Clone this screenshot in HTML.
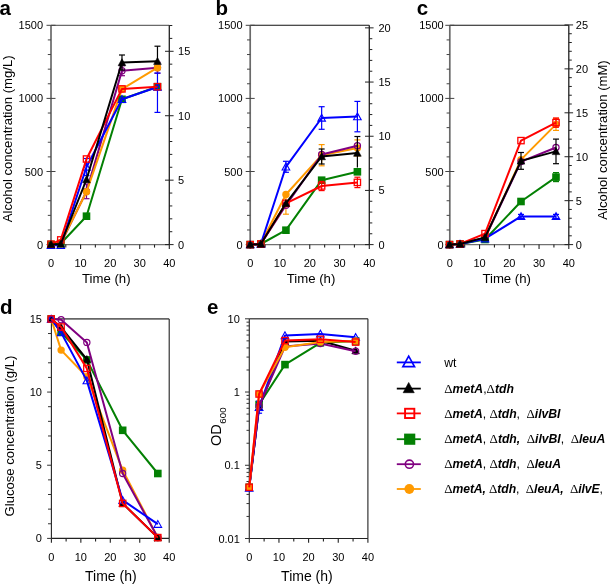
<!DOCTYPE html>
<html><head><meta charset="utf-8"><style>
html,body{margin:0;padding:0;background:#fff;}
body{width:610px;height:584px;overflow:hidden;font-family:"Liberation Sans", sans-serif;}
svg{display:block;will-change:transform;}
</style></head><body>
<svg width="610" height="584" viewBox="0 0 610 584" font-family='"Liberation Sans", sans-serif'>
<rect width="610" height="584" fill="#fff"/>
<text x="-0.6" y="15.2" font-size="20.5" text-anchor="start" font-weight="bold" font-style="normal">a</text>
<text x="215.5" y="15.2" font-size="20.5" text-anchor="start" font-weight="bold" font-style="normal">b</text>
<text x="416.8" y="15.2" font-size="20.5" text-anchor="start" font-weight="bold" font-style="normal">c</text>
<text x="0" y="314.2" font-size="20.5" text-anchor="start" font-weight="bold" font-style="normal">d</text>
<text x="207" y="314.2" font-size="20.5" text-anchor="start" font-weight="bold" font-style="normal">e</text>
<line x1="51" y1="25.3" x2="169.3" y2="25.3" stroke="#6a6a6a" stroke-width="1.3"/>
<line x1="51" y1="25.3" x2="51" y2="244.6" stroke="#6a6a6a" stroke-width="1.7"/>
<line x1="51" y1="244.6" x2="169.3" y2="244.6" stroke="#707070" stroke-width="1.3"/>
<line x1="169.3" y1="25.3" x2="169.3" y2="244.6" stroke="#222" stroke-width="1.3"/>
<line x1="46.5" y1="244.6" x2="55.5" y2="244.6" stroke="#444" stroke-width="1.0"/>
<text x="43.1" y="248.6" font-size="11" text-anchor="end" font-weight="normal" font-style="normal">0</text>
<line x1="47.8" y1="229.98" x2="51" y2="229.98" stroke="#444" stroke-width="1.0"/>
<line x1="47.8" y1="215.36" x2="51" y2="215.36" stroke="#444" stroke-width="1.0"/>
<line x1="47.8" y1="200.74" x2="51" y2="200.74" stroke="#444" stroke-width="1.0"/>
<line x1="47.8" y1="186.12" x2="51" y2="186.12" stroke="#444" stroke-width="1.0"/>
<line x1="46.5" y1="171.5" x2="55.5" y2="171.5" stroke="#444" stroke-width="1.0"/>
<text x="43.1" y="175.5" font-size="11" text-anchor="end" font-weight="normal" font-style="normal">500</text>
<line x1="47.8" y1="156.88" x2="51" y2="156.88" stroke="#444" stroke-width="1.0"/>
<line x1="47.8" y1="142.26" x2="51" y2="142.26" stroke="#444" stroke-width="1.0"/>
<line x1="47.8" y1="127.64" x2="51" y2="127.64" stroke="#444" stroke-width="1.0"/>
<line x1="47.8" y1="113.02" x2="51" y2="113.02" stroke="#444" stroke-width="1.0"/>
<line x1="46.5" y1="98.4" x2="55.5" y2="98.4" stroke="#444" stroke-width="1.0"/>
<text x="43.1" y="102.4" font-size="11" text-anchor="end" font-weight="normal" font-style="normal">1000</text>
<line x1="47.8" y1="83.78" x2="51" y2="83.78" stroke="#444" stroke-width="1.0"/>
<line x1="47.8" y1="69.16" x2="51" y2="69.16" stroke="#444" stroke-width="1.0"/>
<line x1="47.8" y1="54.54" x2="51" y2="54.54" stroke="#444" stroke-width="1.0"/>
<line x1="47.8" y1="39.92" x2="51" y2="39.92" stroke="#444" stroke-width="1.0"/>
<line x1="46.5" y1="25.3" x2="55.5" y2="25.3" stroke="#444" stroke-width="1.0"/>
<text x="43.1" y="29.3" font-size="11" text-anchor="end" font-weight="normal" font-style="normal">1500</text>
<line x1="165" y1="244.6" x2="173.6" y2="244.6" stroke="#222" stroke-width="1.0"/>
<text x="178.1" y="248.6" font-size="11" text-anchor="start" font-weight="normal" font-style="normal">0</text>
<line x1="169.3" y1="231.71" x2="172.3" y2="231.71" stroke="#222" stroke-width="1.0"/>
<line x1="169.3" y1="218.82" x2="172.3" y2="218.82" stroke="#222" stroke-width="1.0"/>
<line x1="169.3" y1="205.94" x2="172.3" y2="205.94" stroke="#222" stroke-width="1.0"/>
<line x1="169.3" y1="193.05" x2="172.3" y2="193.05" stroke="#222" stroke-width="1.0"/>
<line x1="165" y1="180.16" x2="173.6" y2="180.16" stroke="#222" stroke-width="1.0"/>
<text x="178.1" y="184.16" font-size="11" text-anchor="start" font-weight="normal" font-style="normal">5</text>
<line x1="169.3" y1="167.27" x2="172.3" y2="167.27" stroke="#222" stroke-width="1.0"/>
<line x1="169.3" y1="154.39" x2="172.3" y2="154.39" stroke="#222" stroke-width="1.0"/>
<line x1="169.3" y1="141.5" x2="172.3" y2="141.5" stroke="#222" stroke-width="1.0"/>
<line x1="169.3" y1="128.61" x2="172.3" y2="128.61" stroke="#222" stroke-width="1.0"/>
<line x1="165" y1="115.72" x2="173.6" y2="115.72" stroke="#222" stroke-width="1.0"/>
<text x="178.1" y="119.72" font-size="11" text-anchor="start" font-weight="normal" font-style="normal">10</text>
<line x1="169.3" y1="102.84" x2="172.3" y2="102.84" stroke="#222" stroke-width="1.0"/>
<line x1="169.3" y1="89.95" x2="172.3" y2="89.95" stroke="#222" stroke-width="1.0"/>
<line x1="169.3" y1="77.06" x2="172.3" y2="77.06" stroke="#222" stroke-width="1.0"/>
<line x1="169.3" y1="64.17" x2="172.3" y2="64.17" stroke="#222" stroke-width="1.0"/>
<line x1="165" y1="51.29" x2="173.6" y2="51.29" stroke="#222" stroke-width="1.0"/>
<text x="178.1" y="55.29" font-size="11" text-anchor="start" font-weight="normal" font-style="normal">15</text>
<line x1="169.3" y1="38.4" x2="172.3" y2="38.4" stroke="#222" stroke-width="1.0"/>
<line x1="169.3" y1="25.51" x2="172.3" y2="25.51" stroke="#222" stroke-width="1.0"/>
<line x1="51" y1="244.6" x2="51" y2="248.9" stroke="#222" stroke-width="1.1"/>
<line x1="65.79" y1="244.6" x2="65.79" y2="247.6" stroke="#222" stroke-width="1.1"/>
<line x1="80.58" y1="244.6" x2="80.58" y2="248.9" stroke="#222" stroke-width="1.1"/>
<line x1="95.36" y1="244.6" x2="95.36" y2="247.6" stroke="#222" stroke-width="1.1"/>
<line x1="110.15" y1="244.6" x2="110.15" y2="248.9" stroke="#222" stroke-width="1.1"/>
<line x1="124.94" y1="244.6" x2="124.94" y2="247.6" stroke="#222" stroke-width="1.1"/>
<line x1="139.73" y1="244.6" x2="139.73" y2="248.9" stroke="#222" stroke-width="1.1"/>
<line x1="154.51" y1="244.6" x2="154.51" y2="247.6" stroke="#222" stroke-width="1.1"/>
<line x1="169.3" y1="244.6" x2="169.3" y2="248.9" stroke="#222" stroke-width="1.1"/>
<text x="51" y="267" font-size="11" text-anchor="middle" font-weight="normal" font-style="normal">0</text>
<text x="80.58" y="267" font-size="11" text-anchor="middle" font-weight="normal" font-style="normal">10</text>
<text x="110.15" y="267" font-size="11" text-anchor="middle" font-weight="normal" font-style="normal">20</text>
<text x="139.73" y="267" font-size="11" text-anchor="middle" font-weight="normal" font-style="normal">30</text>
<text x="169.3" y="267" font-size="11" text-anchor="middle" font-weight="normal" font-style="normal">40</text>
<text x="106.3" y="282.9" font-size="13.2" text-anchor="middle" font-weight="normal" font-style="normal">Time (h)</text>
<polyline points="51,244.4 60.76,243.5 86.49,191.4 121.98,70.7 157.47,67.8" fill="none" stroke="#800080" stroke-width="2.0" stroke-linejoin="round"/>
<line x1="86.49" y1="184.1" x2="86.49" y2="198.7" stroke="#800080" stroke-width="1.2"/>
<line x1="83.49" y1="184.1" x2="89.49" y2="184.1" stroke="#800080" stroke-width="1.2"/>
<line x1="83.49" y1="198.7" x2="89.49" y2="198.7" stroke="#800080" stroke-width="1.2"/>
<line x1="121.98" y1="65.7" x2="121.98" y2="75.7" stroke="#800080" stroke-width="1.2"/>
<line x1="118.98" y1="65.7" x2="124.98" y2="65.7" stroke="#800080" stroke-width="1.2"/>
<line x1="118.98" y1="75.7" x2="124.98" y2="75.7" stroke="#800080" stroke-width="1.2"/>
<line x1="157.47" y1="62.3" x2="157.47" y2="73.3" stroke="#800080" stroke-width="1.2"/>
<line x1="154.47" y1="62.3" x2="160.47" y2="62.3" stroke="#800080" stroke-width="1.2"/>
<line x1="154.47" y1="73.3" x2="160.47" y2="73.3" stroke="#800080" stroke-width="1.2"/>
<circle cx="51" cy="244.4" r="3.1" fill="none" stroke="#800080" stroke-width="1.2"/>
<circle cx="60.76" cy="243.5" r="3.1" fill="none" stroke="#800080" stroke-width="1.2"/>
<circle cx="86.49" cy="191.4" r="3.1" fill="none" stroke="#800080" stroke-width="1.2"/>
<circle cx="121.98" cy="70.7" r="3.1" fill="none" stroke="#800080" stroke-width="1.2"/>
<circle cx="157.47" cy="67.8" r="3.1" fill="none" stroke="#800080" stroke-width="1.2"/>
<polyline points="51,244.4 60.76,243 86.49,191.8 121.98,89.1 157.47,67.7" fill="none" stroke="#ff9a00" stroke-width="2.0" stroke-linejoin="round"/>
<circle cx="51" cy="244.4" r="3.7" fill="#ff9a00"/>
<circle cx="60.76" cy="243" r="3.7" fill="#ff9a00"/>
<circle cx="86.49" cy="191.8" r="3.7" fill="#ff9a00"/>
<circle cx="121.98" cy="89.1" r="3.7" fill="#ff9a00"/>
<circle cx="157.47" cy="67.7" r="3.7" fill="#ff9a00"/>
<polyline points="51,244.4 60.76,243.5 86.49,216.2 121.98,99.3 157.47,86.7" fill="none" stroke="#038003" stroke-width="2.0" stroke-linejoin="round"/>
<rect x="47.2" y="240.6" width="7.6" height="7.6" fill="#038003"/>
<rect x="56.96" y="239.7" width="7.6" height="7.6" fill="#038003"/>
<rect x="82.69" y="212.4" width="7.6" height="7.6" fill="#038003"/>
<rect x="118.18" y="95.5" width="7.6" height="7.6" fill="#038003"/>
<rect x="153.67" y="82.9" width="7.6" height="7.6" fill="#038003"/>
<polyline points="51,245.3 60.76,245.3 86.49,167 121.98,99.3 157.47,87" fill="none" stroke="#0000ff" stroke-width="2.0" stroke-linejoin="round"/>
<line x1="86.49" y1="158.5" x2="86.49" y2="175.5" stroke="#0000ff" stroke-width="1.2"/>
<line x1="83.49" y1="158.5" x2="89.49" y2="158.5" stroke="#0000ff" stroke-width="1.2"/>
<line x1="83.49" y1="175.5" x2="89.49" y2="175.5" stroke="#0000ff" stroke-width="1.2"/>
<line x1="157.47" y1="73" x2="157.47" y2="112.4" stroke="#0000ff" stroke-width="1.2"/>
<line x1="154.47" y1="73" x2="160.47" y2="73" stroke="#0000ff" stroke-width="1.2"/>
<line x1="154.47" y1="112.4" x2="160.47" y2="112.4" stroke="#0000ff" stroke-width="1.2"/>
<polygon points="51,241.63 47.2,248.43 54.8,248.43" fill="none" stroke="#0000ff" stroke-width="1.1"/>
<polygon points="60.76,241.63 56.96,248.43 64.56,248.43" fill="none" stroke="#0000ff" stroke-width="1.1"/>
<polygon points="86.49,163.33 82.69,170.13 90.29,170.13" fill="none" stroke="#0000ff" stroke-width="1.1"/>
<polygon points="121.98,95.63 118.18,102.43 125.78,102.43" fill="none" stroke="#0000ff" stroke-width="1.1"/>
<polygon points="157.47,83.33 153.67,90.13 161.27,90.13" fill="none" stroke="#0000ff" stroke-width="1.1"/>
<polyline points="51,244.2 60.76,239.9 86.49,159 121.98,88.9 157.47,86.7" fill="none" stroke="#ff0000" stroke-width="2.0" stroke-linejoin="round"/>
<rect x="47.85" y="241.05" width="6.3" height="6.3" fill="none" stroke="#ff0000" stroke-width="1.3"/>
<rect x="57.61" y="236.75" width="6.3" height="6.3" fill="none" stroke="#ff0000" stroke-width="1.3"/>
<rect x="83.34" y="155.85" width="6.3" height="6.3" fill="none" stroke="#ff0000" stroke-width="1.3"/>
<rect x="118.83" y="85.75" width="6.3" height="6.3" fill="none" stroke="#ff0000" stroke-width="1.3"/>
<rect x="154.32" y="83.55" width="6.3" height="6.3" fill="none" stroke="#ff0000" stroke-width="1.3"/>
<polyline points="51,244.4 60.76,244 86.49,179.5 121.98,62.5 157.47,61.2" fill="none" stroke="#000000" stroke-width="2.0" stroke-linejoin="round"/>
<line x1="121.98" y1="55" x2="121.98" y2="70" stroke="#000000" stroke-width="1.2"/>
<line x1="118.98" y1="55" x2="124.98" y2="55" stroke="#000000" stroke-width="1.2"/>
<line x1="118.98" y1="70" x2="124.98" y2="70" stroke="#000000" stroke-width="1.2"/>
<line x1="157.47" y1="46.2" x2="157.47" y2="61.2" stroke="#000000" stroke-width="1.2"/>
<line x1="154.47" y1="46.2" x2="160.47" y2="46.2" stroke="#000000" stroke-width="1.2"/>
<polygon points="51,240.62 47.2,247.62 54.8,247.62" fill="#000000" stroke="#000000" stroke-width="0.6"/>
<polygon points="60.76,240.22 56.96,247.22 64.56,247.22" fill="#000000" stroke="#000000" stroke-width="0.6"/>
<polygon points="86.49,175.72 82.69,182.72 90.29,182.72" fill="#000000" stroke="#000000" stroke-width="0.6"/>
<polygon points="121.98,58.72 118.18,65.72 125.78,65.72" fill="#000000" stroke="#000000" stroke-width="0.6"/>
<polygon points="157.47,57.42 153.67,64.42 161.27,64.42" fill="#000000" stroke="#000000" stroke-width="0.6"/>
<line x1="250.2" y1="25.3" x2="369.3" y2="25.3" stroke="#111" stroke-width="1.1"/>
<line x1="250.2" y1="25.3" x2="250.2" y2="244.6" stroke="#6a6a6a" stroke-width="1.7"/>
<line x1="250.2" y1="244.6" x2="369.3" y2="244.6" stroke="#707070" stroke-width="1.3"/>
<line x1="369.3" y1="25.3" x2="369.3" y2="244.6" stroke="#222" stroke-width="1.3"/>
<line x1="245.7" y1="244.6" x2="254.7" y2="244.6" stroke="#444" stroke-width="1.0"/>
<text x="242.6" y="248.6" font-size="11" text-anchor="end" font-weight="normal" font-style="normal">0</text>
<line x1="247" y1="229.98" x2="250.2" y2="229.98" stroke="#444" stroke-width="1.0"/>
<line x1="247" y1="215.36" x2="250.2" y2="215.36" stroke="#444" stroke-width="1.0"/>
<line x1="247" y1="200.74" x2="250.2" y2="200.74" stroke="#444" stroke-width="1.0"/>
<line x1="247" y1="186.12" x2="250.2" y2="186.12" stroke="#444" stroke-width="1.0"/>
<line x1="245.7" y1="171.5" x2="254.7" y2="171.5" stroke="#444" stroke-width="1.0"/>
<text x="242.6" y="175.5" font-size="11" text-anchor="end" font-weight="normal" font-style="normal">500</text>
<line x1="247" y1="156.88" x2="250.2" y2="156.88" stroke="#444" stroke-width="1.0"/>
<line x1="247" y1="142.26" x2="250.2" y2="142.26" stroke="#444" stroke-width="1.0"/>
<line x1="247" y1="127.64" x2="250.2" y2="127.64" stroke="#444" stroke-width="1.0"/>
<line x1="247" y1="113.02" x2="250.2" y2="113.02" stroke="#444" stroke-width="1.0"/>
<line x1="245.7" y1="98.4" x2="254.7" y2="98.4" stroke="#444" stroke-width="1.0"/>
<text x="242.6" y="102.4" font-size="11" text-anchor="end" font-weight="normal" font-style="normal">1000</text>
<line x1="247" y1="83.78" x2="250.2" y2="83.78" stroke="#444" stroke-width="1.0"/>
<line x1="247" y1="69.16" x2="250.2" y2="69.16" stroke="#444" stroke-width="1.0"/>
<line x1="247" y1="54.54" x2="250.2" y2="54.54" stroke="#444" stroke-width="1.0"/>
<line x1="247" y1="39.92" x2="250.2" y2="39.92" stroke="#444" stroke-width="1.0"/>
<line x1="245.7" y1="25.3" x2="254.7" y2="25.3" stroke="#444" stroke-width="1.0"/>
<text x="242.6" y="29.3" font-size="11" text-anchor="end" font-weight="normal" font-style="normal">1500</text>
<line x1="365" y1="244.6" x2="373.6" y2="244.6" stroke="#222" stroke-width="1.0"/>
<text x="378.5" y="248.6" font-size="11" text-anchor="start" font-weight="normal" font-style="normal">0</text>
<line x1="369.3" y1="233.76" x2="372.3" y2="233.76" stroke="#222" stroke-width="1.0"/>
<line x1="369.3" y1="222.93" x2="372.3" y2="222.93" stroke="#222" stroke-width="1.0"/>
<line x1="369.3" y1="212.09" x2="372.3" y2="212.09" stroke="#222" stroke-width="1.0"/>
<line x1="369.3" y1="201.25" x2="372.3" y2="201.25" stroke="#222" stroke-width="1.0"/>
<line x1="365" y1="190.42" x2="373.6" y2="190.42" stroke="#222" stroke-width="1.0"/>
<text x="378.5" y="194.42" font-size="11" text-anchor="start" font-weight="normal" font-style="normal">5</text>
<line x1="369.3" y1="179.58" x2="372.3" y2="179.58" stroke="#222" stroke-width="1.0"/>
<line x1="369.3" y1="168.75" x2="372.3" y2="168.75" stroke="#222" stroke-width="1.0"/>
<line x1="369.3" y1="157.91" x2="372.3" y2="157.91" stroke="#222" stroke-width="1.0"/>
<line x1="369.3" y1="147.07" x2="372.3" y2="147.07" stroke="#222" stroke-width="1.0"/>
<line x1="365" y1="136.24" x2="373.6" y2="136.24" stroke="#222" stroke-width="1.0"/>
<text x="378.5" y="140.24" font-size="11" text-anchor="start" font-weight="normal" font-style="normal">10</text>
<line x1="369.3" y1="125.4" x2="372.3" y2="125.4" stroke="#222" stroke-width="1.0"/>
<line x1="369.3" y1="114.56" x2="372.3" y2="114.56" stroke="#222" stroke-width="1.0"/>
<line x1="369.3" y1="103.73" x2="372.3" y2="103.73" stroke="#222" stroke-width="1.0"/>
<line x1="369.3" y1="92.89" x2="372.3" y2="92.89" stroke="#222" stroke-width="1.0"/>
<line x1="365" y1="82.05" x2="373.6" y2="82.05" stroke="#222" stroke-width="1.0"/>
<text x="378.5" y="86.05" font-size="11" text-anchor="start" font-weight="normal" font-style="normal">15</text>
<line x1="369.3" y1="71.22" x2="372.3" y2="71.22" stroke="#222" stroke-width="1.0"/>
<line x1="369.3" y1="60.38" x2="372.3" y2="60.38" stroke="#222" stroke-width="1.0"/>
<line x1="369.3" y1="49.55" x2="372.3" y2="49.55" stroke="#222" stroke-width="1.0"/>
<line x1="369.3" y1="38.71" x2="372.3" y2="38.71" stroke="#222" stroke-width="1.0"/>
<line x1="365" y1="27.87" x2="373.6" y2="27.87" stroke="#222" stroke-width="1.0"/>
<text x="378.5" y="31.87" font-size="11" text-anchor="start" font-weight="normal" font-style="normal">20</text>
<line x1="250.2" y1="244.6" x2="250.2" y2="248.9" stroke="#222" stroke-width="1.1"/>
<line x1="265.09" y1="244.6" x2="265.09" y2="247.6" stroke="#222" stroke-width="1.1"/>
<line x1="279.98" y1="244.6" x2="279.98" y2="248.9" stroke="#222" stroke-width="1.1"/>
<line x1="294.86" y1="244.6" x2="294.86" y2="247.6" stroke="#222" stroke-width="1.1"/>
<line x1="309.75" y1="244.6" x2="309.75" y2="248.9" stroke="#222" stroke-width="1.1"/>
<line x1="324.64" y1="244.6" x2="324.64" y2="247.6" stroke="#222" stroke-width="1.1"/>
<line x1="339.52" y1="244.6" x2="339.52" y2="248.9" stroke="#222" stroke-width="1.1"/>
<line x1="354.41" y1="244.6" x2="354.41" y2="247.6" stroke="#222" stroke-width="1.1"/>
<line x1="369.3" y1="244.6" x2="369.3" y2="248.9" stroke="#222" stroke-width="1.1"/>
<text x="250.2" y="267" font-size="11" text-anchor="middle" font-weight="normal" font-style="normal">0</text>
<text x="279.98" y="267" font-size="11" text-anchor="middle" font-weight="normal" font-style="normal">10</text>
<text x="309.75" y="267" font-size="11" text-anchor="middle" font-weight="normal" font-style="normal">20</text>
<text x="339.52" y="267" font-size="11" text-anchor="middle" font-weight="normal" font-style="normal">30</text>
<text x="369.3" y="267" font-size="11" text-anchor="middle" font-weight="normal" font-style="normal">40</text>
<text x="311" y="282.9" font-size="13.2" text-anchor="middle" font-weight="normal" font-style="normal">Time (h)</text>
<polyline points="250.2,244.6 260.83,243.5 285.93,194.5 321.66,155.2 357.39,147.9" fill="none" stroke="#ff9a00" stroke-width="2.0" stroke-linejoin="round"/>
<line x1="285.93" y1="194.5" x2="285.93" y2="214.2" stroke="#ff9a00" stroke-width="1.2"/>
<line x1="282.93" y1="214.2" x2="288.93" y2="214.2" stroke="#ff9a00" stroke-width="1.2"/>
<line x1="321.66" y1="144.6" x2="321.66" y2="165.8" stroke="#ff9a00" stroke-width="1.2"/>
<line x1="318.66" y1="144.6" x2="324.66" y2="144.6" stroke="#ff9a00" stroke-width="1.2"/>
<line x1="318.66" y1="165.8" x2="324.66" y2="165.8" stroke="#ff9a00" stroke-width="1.2"/>
<line x1="357.39" y1="139.9" x2="357.39" y2="155.9" stroke="#ff9a00" stroke-width="1.2"/>
<line x1="354.39" y1="139.9" x2="360.39" y2="139.9" stroke="#ff9a00" stroke-width="1.2"/>
<line x1="354.39" y1="155.9" x2="360.39" y2="155.9" stroke="#ff9a00" stroke-width="1.2"/>
<circle cx="250.2" cy="244.6" r="3.7" fill="#ff9a00"/>
<circle cx="260.83" cy="243.5" r="3.7" fill="#ff9a00"/>
<circle cx="285.93" cy="194.5" r="3.7" fill="#ff9a00"/>
<circle cx="321.66" cy="155.2" r="3.7" fill="#ff9a00"/>
<circle cx="357.39" cy="147.9" r="3.7" fill="#ff9a00"/>
<polyline points="250.2,244.6 260.83,244 285.93,205.3 321.66,154.5 357.39,145.8" fill="none" stroke="#800080" stroke-width="2.0" stroke-linejoin="round"/>
<circle cx="250.2" cy="244.6" r="3.1" fill="none" stroke="#800080" stroke-width="1.2"/>
<circle cx="260.83" cy="244" r="3.1" fill="none" stroke="#800080" stroke-width="1.2"/>
<circle cx="285.93" cy="205.3" r="3.1" fill="none" stroke="#800080" stroke-width="1.2"/>
<circle cx="321.66" cy="154.5" r="3.1" fill="none" stroke="#800080" stroke-width="1.2"/>
<circle cx="357.39" cy="145.8" r="3.1" fill="none" stroke="#800080" stroke-width="1.2"/>
<polyline points="250.2,244.6 260.83,244 285.93,230.2 321.66,180.2 357.39,171.8" fill="none" stroke="#038003" stroke-width="2.0" stroke-linejoin="round"/>
<rect x="246.4" y="240.8" width="7.6" height="7.6" fill="#038003"/>
<rect x="257.03" y="240.2" width="7.6" height="7.6" fill="#038003"/>
<rect x="282.13" y="226.4" width="7.6" height="7.6" fill="#038003"/>
<rect x="317.86" y="176.4" width="7.6" height="7.6" fill="#038003"/>
<rect x="353.59" y="168" width="7.6" height="7.6" fill="#038003"/>
<polyline points="250.2,244.6 260.83,244 285.93,166.8 321.66,118 357.39,116.6" fill="none" stroke="#0000ff" stroke-width="2.0" stroke-linejoin="round"/>
<line x1="285.93" y1="161.3" x2="285.93" y2="172.3" stroke="#0000ff" stroke-width="1.2"/>
<line x1="282.93" y1="161.3" x2="288.93" y2="161.3" stroke="#0000ff" stroke-width="1.2"/>
<line x1="282.93" y1="172.3" x2="288.93" y2="172.3" stroke="#0000ff" stroke-width="1.2"/>
<line x1="321.66" y1="106.7" x2="321.66" y2="129.3" stroke="#0000ff" stroke-width="1.2"/>
<line x1="318.66" y1="106.7" x2="324.66" y2="106.7" stroke="#0000ff" stroke-width="1.2"/>
<line x1="318.66" y1="129.3" x2="324.66" y2="129.3" stroke="#0000ff" stroke-width="1.2"/>
<line x1="357.39" y1="101.4" x2="357.39" y2="131.8" stroke="#0000ff" stroke-width="1.2"/>
<line x1="354.39" y1="101.4" x2="360.39" y2="101.4" stroke="#0000ff" stroke-width="1.2"/>
<line x1="354.39" y1="131.8" x2="360.39" y2="131.8" stroke="#0000ff" stroke-width="1.2"/>
<polygon points="250.2,240.93 246.4,247.73 254,247.73" fill="none" stroke="#0000ff" stroke-width="1.1"/>
<polygon points="260.83,240.33 257.03,247.13 264.63,247.13" fill="none" stroke="#0000ff" stroke-width="1.1"/>
<polygon points="285.93,163.13 282.13,169.93 289.73,169.93" fill="none" stroke="#0000ff" stroke-width="1.1"/>
<polygon points="321.66,114.33 317.86,121.13 325.46,121.13" fill="none" stroke="#0000ff" stroke-width="1.1"/>
<polygon points="357.39,112.93 353.59,119.73 361.19,119.73" fill="none" stroke="#0000ff" stroke-width="1.1"/>
<polyline points="250.2,244.6 260.83,244 285.93,203.3 321.66,186 357.39,182.4" fill="none" stroke="#ff0000" stroke-width="2.0" stroke-linejoin="round"/>
<line x1="321.66" y1="181.4" x2="321.66" y2="190.6" stroke="#ff0000" stroke-width="1.2"/>
<line x1="318.66" y1="181.4" x2="324.66" y2="181.4" stroke="#ff0000" stroke-width="1.2"/>
<line x1="318.66" y1="190.6" x2="324.66" y2="190.6" stroke="#ff0000" stroke-width="1.2"/>
<line x1="357.39" y1="177.2" x2="357.39" y2="187.6" stroke="#ff0000" stroke-width="1.2"/>
<line x1="354.39" y1="177.2" x2="360.39" y2="177.2" stroke="#ff0000" stroke-width="1.2"/>
<line x1="354.39" y1="187.6" x2="360.39" y2="187.6" stroke="#ff0000" stroke-width="1.2"/>
<rect x="247.05" y="241.45" width="6.3" height="6.3" fill="none" stroke="#ff0000" stroke-width="1.3"/>
<rect x="257.68" y="240.85" width="6.3" height="6.3" fill="none" stroke="#ff0000" stroke-width="1.3"/>
<rect x="282.78" y="200.15" width="6.3" height="6.3" fill="none" stroke="#ff0000" stroke-width="1.3"/>
<rect x="318.51" y="182.85" width="6.3" height="6.3" fill="none" stroke="#ff0000" stroke-width="1.3"/>
<rect x="354.24" y="179.25" width="6.3" height="6.3" fill="none" stroke="#ff0000" stroke-width="1.3"/>
<polyline points="250.2,244.6 260.83,244 285.93,203.3 321.66,156.5 357.39,153" fill="none" stroke="#000000" stroke-width="2.0" stroke-linejoin="round"/>
<line x1="321.66" y1="149" x2="321.66" y2="164" stroke="#000000" stroke-width="1.2"/>
<line x1="318.66" y1="149" x2="324.66" y2="149" stroke="#000000" stroke-width="1.2"/>
<line x1="318.66" y1="164" x2="324.66" y2="164" stroke="#000000" stroke-width="1.2"/>
<line x1="357.39" y1="136.5" x2="357.39" y2="167.5" stroke="#000000" stroke-width="1.2"/>
<line x1="354.39" y1="136.5" x2="360.39" y2="136.5" stroke="#000000" stroke-width="1.2"/>
<polygon points="250.2,240.82 246.4,247.82 254,247.82" fill="#000000" stroke="#000000" stroke-width="0.6"/>
<polygon points="260.83,240.22 257.03,247.22 264.63,247.22" fill="#000000" stroke="#000000" stroke-width="0.6"/>
<polygon points="285.93,199.52 282.13,206.52 289.73,206.52" fill="#000000" stroke="#000000" stroke-width="0.6"/>
<polygon points="321.66,152.72 317.86,159.72 325.46,159.72" fill="#000000" stroke="#000000" stroke-width="0.6"/>
<polygon points="357.39,149.22 353.59,156.22 361.19,156.22" fill="#000000" stroke="#000000" stroke-width="0.6"/>
<line x1="449.8" y1="25.3" x2="568.8" y2="25.3" stroke="#111" stroke-width="1.1"/>
<line x1="449.8" y1="25.3" x2="449.8" y2="244.6" stroke="#6a6a6a" stroke-width="1.7"/>
<line x1="449.8" y1="244.6" x2="568.8" y2="244.6" stroke="#707070" stroke-width="1.3"/>
<line x1="568.8" y1="25.3" x2="568.8" y2="244.6" stroke="#222" stroke-width="1.3"/>
<line x1="445.3" y1="244.6" x2="454.3" y2="244.6" stroke="#444" stroke-width="1.0"/>
<text x="443.7" y="248.6" font-size="11" text-anchor="end" font-weight="normal" font-style="normal">0</text>
<line x1="446.6" y1="229.98" x2="449.8" y2="229.98" stroke="#444" stroke-width="1.0"/>
<line x1="446.6" y1="215.36" x2="449.8" y2="215.36" stroke="#444" stroke-width="1.0"/>
<line x1="446.6" y1="200.74" x2="449.8" y2="200.74" stroke="#444" stroke-width="1.0"/>
<line x1="446.6" y1="186.12" x2="449.8" y2="186.12" stroke="#444" stroke-width="1.0"/>
<line x1="445.3" y1="171.5" x2="454.3" y2="171.5" stroke="#444" stroke-width="1.0"/>
<text x="443.7" y="175.5" font-size="11" text-anchor="end" font-weight="normal" font-style="normal">500</text>
<line x1="446.6" y1="156.88" x2="449.8" y2="156.88" stroke="#444" stroke-width="1.0"/>
<line x1="446.6" y1="142.26" x2="449.8" y2="142.26" stroke="#444" stroke-width="1.0"/>
<line x1="446.6" y1="127.64" x2="449.8" y2="127.64" stroke="#444" stroke-width="1.0"/>
<line x1="446.6" y1="113.02" x2="449.8" y2="113.02" stroke="#444" stroke-width="1.0"/>
<line x1="445.3" y1="98.4" x2="454.3" y2="98.4" stroke="#444" stroke-width="1.0"/>
<text x="443.7" y="102.4" font-size="11" text-anchor="end" font-weight="normal" font-style="normal">1000</text>
<line x1="446.6" y1="83.78" x2="449.8" y2="83.78" stroke="#444" stroke-width="1.0"/>
<line x1="446.6" y1="69.16" x2="449.8" y2="69.16" stroke="#444" stroke-width="1.0"/>
<line x1="446.6" y1="54.54" x2="449.8" y2="54.54" stroke="#444" stroke-width="1.0"/>
<line x1="446.6" y1="39.92" x2="449.8" y2="39.92" stroke="#444" stroke-width="1.0"/>
<line x1="445.3" y1="25.3" x2="454.3" y2="25.3" stroke="#444" stroke-width="1.0"/>
<text x="443.7" y="29.3" font-size="11" text-anchor="end" font-weight="normal" font-style="normal">1500</text>
<line x1="564.5" y1="244.6" x2="573.1" y2="244.6" stroke="#222" stroke-width="1.0"/>
<text x="575.8" y="248.6" font-size="11" text-anchor="start" font-weight="normal" font-style="normal">0</text>
<line x1="568.8" y1="235.81" x2="571.8" y2="235.81" stroke="#222" stroke-width="1.0"/>
<line x1="568.8" y1="227.03" x2="571.8" y2="227.03" stroke="#222" stroke-width="1.0"/>
<line x1="568.8" y1="218.24" x2="571.8" y2="218.24" stroke="#222" stroke-width="1.0"/>
<line x1="568.8" y1="209.45" x2="571.8" y2="209.45" stroke="#222" stroke-width="1.0"/>
<line x1="564.5" y1="200.67" x2="573.1" y2="200.67" stroke="#222" stroke-width="1.0"/>
<text x="575.8" y="204.67" font-size="11" text-anchor="start" font-weight="normal" font-style="normal">5</text>
<line x1="568.8" y1="191.88" x2="571.8" y2="191.88" stroke="#222" stroke-width="1.0"/>
<line x1="568.8" y1="183.09" x2="571.8" y2="183.09" stroke="#222" stroke-width="1.0"/>
<line x1="568.8" y1="174.31" x2="571.8" y2="174.31" stroke="#222" stroke-width="1.0"/>
<line x1="568.8" y1="165.52" x2="571.8" y2="165.52" stroke="#222" stroke-width="1.0"/>
<line x1="564.5" y1="156.73" x2="573.1" y2="156.73" stroke="#222" stroke-width="1.0"/>
<text x="575.8" y="160.73" font-size="11" text-anchor="start" font-weight="normal" font-style="normal">10</text>
<line x1="568.8" y1="147.95" x2="571.8" y2="147.95" stroke="#222" stroke-width="1.0"/>
<line x1="568.8" y1="139.16" x2="571.8" y2="139.16" stroke="#222" stroke-width="1.0"/>
<line x1="568.8" y1="130.37" x2="571.8" y2="130.37" stroke="#222" stroke-width="1.0"/>
<line x1="568.8" y1="121.59" x2="571.8" y2="121.59" stroke="#222" stroke-width="1.0"/>
<line x1="564.5" y1="112.8" x2="573.1" y2="112.8" stroke="#222" stroke-width="1.0"/>
<text x="575.8" y="116.8" font-size="11" text-anchor="start" font-weight="normal" font-style="normal">15</text>
<line x1="568.8" y1="104.01" x2="571.8" y2="104.01" stroke="#222" stroke-width="1.0"/>
<line x1="568.8" y1="95.23" x2="571.8" y2="95.23" stroke="#222" stroke-width="1.0"/>
<line x1="568.8" y1="86.44" x2="571.8" y2="86.44" stroke="#222" stroke-width="1.0"/>
<line x1="568.8" y1="77.65" x2="571.8" y2="77.65" stroke="#222" stroke-width="1.0"/>
<line x1="564.5" y1="68.87" x2="573.1" y2="68.87" stroke="#222" stroke-width="1.0"/>
<text x="575.8" y="72.87" font-size="11" text-anchor="start" font-weight="normal" font-style="normal">20</text>
<line x1="568.8" y1="60.08" x2="571.8" y2="60.08" stroke="#222" stroke-width="1.0"/>
<line x1="568.8" y1="51.29" x2="571.8" y2="51.29" stroke="#222" stroke-width="1.0"/>
<line x1="568.8" y1="42.51" x2="571.8" y2="42.51" stroke="#222" stroke-width="1.0"/>
<line x1="568.8" y1="33.72" x2="571.8" y2="33.72" stroke="#222" stroke-width="1.0"/>
<line x1="564.5" y1="24.93" x2="573.1" y2="24.93" stroke="#222" stroke-width="1.0"/>
<text x="575.8" y="28.93" font-size="11" text-anchor="start" font-weight="normal" font-style="normal">25</text>
<line x1="449.8" y1="244.6" x2="449.8" y2="248.9" stroke="#222" stroke-width="1.1"/>
<line x1="464.68" y1="244.6" x2="464.68" y2="247.6" stroke="#222" stroke-width="1.1"/>
<line x1="479.55" y1="244.6" x2="479.55" y2="248.9" stroke="#222" stroke-width="1.1"/>
<line x1="494.43" y1="244.6" x2="494.43" y2="247.6" stroke="#222" stroke-width="1.1"/>
<line x1="509.3" y1="244.6" x2="509.3" y2="248.9" stroke="#222" stroke-width="1.1"/>
<line x1="524.17" y1="244.6" x2="524.17" y2="247.6" stroke="#222" stroke-width="1.1"/>
<line x1="539.05" y1="244.6" x2="539.05" y2="248.9" stroke="#222" stroke-width="1.1"/>
<line x1="553.92" y1="244.6" x2="553.92" y2="247.6" stroke="#222" stroke-width="1.1"/>
<line x1="568.8" y1="244.6" x2="568.8" y2="248.9" stroke="#222" stroke-width="1.1"/>
<text x="449.8" y="267" font-size="11" text-anchor="middle" font-weight="normal" font-style="normal">0</text>
<text x="479.55" y="267" font-size="11" text-anchor="middle" font-weight="normal" font-style="normal">10</text>
<text x="509.3" y="267" font-size="11" text-anchor="middle" font-weight="normal" font-style="normal">20</text>
<text x="539.05" y="267" font-size="11" text-anchor="middle" font-weight="normal" font-style="normal">30</text>
<text x="568.8" y="267" font-size="11" text-anchor="middle" font-weight="normal" font-style="normal">40</text>
<text x="506.7" y="282.9" font-size="13.2" text-anchor="middle" font-weight="normal" font-style="normal">Time (h)</text>
<polyline points="449.5,244.6 460.02,244 485,238 521,159.6 556,124.4" fill="none" stroke="#ff9a00" stroke-width="2.0" stroke-linejoin="round"/>
<line x1="556" y1="118.4" x2="556" y2="130.4" stroke="#ff9a00" stroke-width="1.2"/>
<line x1="553" y1="118.4" x2="559" y2="118.4" stroke="#ff9a00" stroke-width="1.2"/>
<line x1="553" y1="130.4" x2="559" y2="130.4" stroke="#ff9a00" stroke-width="1.2"/>
<circle cx="449.5" cy="244.6" r="3.7" fill="#ff9a00"/>
<circle cx="460.02" cy="244" r="3.7" fill="#ff9a00"/>
<circle cx="485" cy="238" r="3.7" fill="#ff9a00"/>
<circle cx="521" cy="159.6" r="3.7" fill="#ff9a00"/>
<circle cx="556" cy="124.4" r="3.7" fill="#ff9a00"/>
<polyline points="449.5,244.6 460.02,244 485,238 521,161.6 556,147.5" fill="none" stroke="#800080" stroke-width="2.0" stroke-linejoin="round"/>
<circle cx="449.5" cy="244.6" r="3.1" fill="none" stroke="#800080" stroke-width="1.2"/>
<circle cx="460.02" cy="244" r="3.1" fill="none" stroke="#800080" stroke-width="1.2"/>
<circle cx="485" cy="238" r="3.1" fill="none" stroke="#800080" stroke-width="1.2"/>
<circle cx="521" cy="161.6" r="3.1" fill="none" stroke="#800080" stroke-width="1.2"/>
<circle cx="556" cy="147.5" r="3.1" fill="none" stroke="#800080" stroke-width="1.2"/>
<polyline points="449.5,244.6 460.02,244 485,239.5 521,201.5 556,177.1" fill="none" stroke="#038003" stroke-width="2.0" stroke-linejoin="round"/>
<line x1="556" y1="172.6" x2="556" y2="181.6" stroke="#038003" stroke-width="1.2"/>
<line x1="553" y1="172.6" x2="559" y2="172.6" stroke="#038003" stroke-width="1.2"/>
<line x1="553" y1="181.6" x2="559" y2="181.6" stroke="#038003" stroke-width="1.2"/>
<rect x="445.7" y="240.8" width="7.6" height="7.6" fill="#038003"/>
<rect x="456.22" y="240.2" width="7.6" height="7.6" fill="#038003"/>
<rect x="481.2" y="235.7" width="7.6" height="7.6" fill="#038003"/>
<rect x="517.2" y="197.7" width="7.6" height="7.6" fill="#038003"/>
<rect x="552.2" y="173.3" width="7.6" height="7.6" fill="#038003"/>
<polyline points="449.5,244.6 460.02,244 485,238.7 521,216.4 556,216.4" fill="none" stroke="#0000ff" stroke-width="2.0" stroke-linejoin="round"/>
<line x1="521" y1="214.4" x2="521" y2="218.4" stroke="#0000ff" stroke-width="1.2"/>
<line x1="518" y1="214.4" x2="524" y2="214.4" stroke="#0000ff" stroke-width="1.2"/>
<line x1="518" y1="218.4" x2="524" y2="218.4" stroke="#0000ff" stroke-width="1.2"/>
<line x1="556" y1="214.4" x2="556" y2="218.4" stroke="#0000ff" stroke-width="1.2"/>
<line x1="553" y1="214.4" x2="559" y2="214.4" stroke="#0000ff" stroke-width="1.2"/>
<line x1="553" y1="218.4" x2="559" y2="218.4" stroke="#0000ff" stroke-width="1.2"/>
<polygon points="449.5,240.93 445.7,247.73 453.3,247.73" fill="none" stroke="#0000ff" stroke-width="1.1"/>
<polygon points="460.02,240.33 456.22,247.13 463.82,247.13" fill="none" stroke="#0000ff" stroke-width="1.1"/>
<polygon points="485,235.03 481.2,241.83 488.8,241.83" fill="none" stroke="#0000ff" stroke-width="1.1"/>
<polygon points="521,212.73 517.2,219.53 524.8,219.53" fill="none" stroke="#0000ff" stroke-width="1.1"/>
<polygon points="556,212.73 552.2,219.53 559.8,219.53" fill="none" stroke="#0000ff" stroke-width="1.1"/>
<polyline points="449.5,244.6 460.02,244 485,233.6 521,140.6 556,122.6" fill="none" stroke="#ff0000" stroke-width="2.0" stroke-linejoin="round"/>
<line x1="556" y1="118" x2="556" y2="127.2" stroke="#ff0000" stroke-width="1.2"/>
<line x1="553" y1="118" x2="559" y2="118" stroke="#ff0000" stroke-width="1.2"/>
<line x1="553" y1="127.2" x2="559" y2="127.2" stroke="#ff0000" stroke-width="1.2"/>
<rect x="446.35" y="241.45" width="6.3" height="6.3" fill="none" stroke="#ff0000" stroke-width="1.3"/>
<rect x="456.87" y="240.85" width="6.3" height="6.3" fill="none" stroke="#ff0000" stroke-width="1.3"/>
<rect x="481.85" y="230.45" width="6.3" height="6.3" fill="none" stroke="#ff0000" stroke-width="1.3"/>
<rect x="517.85" y="137.45" width="6.3" height="6.3" fill="none" stroke="#ff0000" stroke-width="1.3"/>
<rect x="552.85" y="119.45" width="6.3" height="6.3" fill="none" stroke="#ff0000" stroke-width="1.3"/>
<polyline points="449.5,244.6 460.02,244 485,237.4 521,160.9 556,151.4" fill="none" stroke="#000000" stroke-width="2.0" stroke-linejoin="round"/>
<line x1="521" y1="152.5" x2="521" y2="169.3" stroke="#000000" stroke-width="1.2"/>
<line x1="518" y1="152.5" x2="524" y2="152.5" stroke="#000000" stroke-width="1.2"/>
<line x1="518" y1="169.3" x2="524" y2="169.3" stroke="#000000" stroke-width="1.2"/>
<line x1="556" y1="139.1" x2="556" y2="163.7" stroke="#000000" stroke-width="1.2"/>
<line x1="553" y1="139.1" x2="559" y2="139.1" stroke="#000000" stroke-width="1.2"/>
<line x1="553" y1="163.7" x2="559" y2="163.7" stroke="#000000" stroke-width="1.2"/>
<polygon points="449.5,240.82 445.7,247.82 453.3,247.82" fill="#000000" stroke="#000000" stroke-width="0.6"/>
<polygon points="460.02,240.22 456.22,247.22 463.82,247.22" fill="#000000" stroke="#000000" stroke-width="0.6"/>
<polygon points="485,233.62 481.2,240.62 488.8,240.62" fill="#000000" stroke="#000000" stroke-width="0.6"/>
<polygon points="521,157.12 517.2,164.12 524.8,164.12" fill="#000000" stroke="#000000" stroke-width="0.6"/>
<polygon points="556,147.62 552.2,154.62 559.8,154.62" fill="#000000" stroke="#000000" stroke-width="0.6"/>
<text transform="translate(12.1,138.8) rotate(-90)" font-size="13.1" text-anchor="middle">Alcohol concentration (mg/L)</text>
<text transform="translate(606.8,140) rotate(-90)" font-size="13.1" text-anchor="middle">Alcohol concentration (mM)</text>
<line x1="51.4" y1="318.9" x2="169.2" y2="318.9" stroke="#666" stroke-width="1.6"/>
<line x1="169.2" y1="318.9" x2="169.2" y2="538.4" stroke="#222" stroke-width="1.1"/>
<line x1="51.4" y1="318.9" x2="51.4" y2="538.4" stroke="#222" stroke-width="1.1"/>
<line x1="51.4" y1="538.4" x2="169.2" y2="538.4" stroke="#222" stroke-width="1.1"/>
<line x1="47.1" y1="538.4" x2="51.4" y2="538.4" stroke="#333" stroke-width="1.0"/>
<text x="41.9" y="542.4" font-size="11" text-anchor="end" font-weight="normal" font-style="normal">0</text>
<line x1="48" y1="523.77" x2="51.4" y2="523.77" stroke="#333" stroke-width="1.0"/>
<line x1="48" y1="509.13" x2="51.4" y2="509.13" stroke="#333" stroke-width="1.0"/>
<line x1="48" y1="494.5" x2="51.4" y2="494.5" stroke="#333" stroke-width="1.0"/>
<line x1="48" y1="479.87" x2="51.4" y2="479.87" stroke="#333" stroke-width="1.0"/>
<line x1="47.1" y1="465.23" x2="51.4" y2="465.23" stroke="#333" stroke-width="1.0"/>
<text x="41.9" y="469.23" font-size="11" text-anchor="end" font-weight="normal" font-style="normal">5</text>
<line x1="48" y1="450.6" x2="51.4" y2="450.6" stroke="#333" stroke-width="1.0"/>
<line x1="48" y1="435.97" x2="51.4" y2="435.97" stroke="#333" stroke-width="1.0"/>
<line x1="48" y1="421.33" x2="51.4" y2="421.33" stroke="#333" stroke-width="1.0"/>
<line x1="48" y1="406.7" x2="51.4" y2="406.7" stroke="#333" stroke-width="1.0"/>
<line x1="47.1" y1="392.07" x2="51.4" y2="392.07" stroke="#333" stroke-width="1.0"/>
<text x="41.9" y="396.07" font-size="11" text-anchor="end" font-weight="normal" font-style="normal">10</text>
<line x1="48" y1="377.43" x2="51.4" y2="377.43" stroke="#333" stroke-width="1.0"/>
<line x1="48" y1="362.8" x2="51.4" y2="362.8" stroke="#333" stroke-width="1.0"/>
<line x1="48" y1="348.17" x2="51.4" y2="348.17" stroke="#333" stroke-width="1.0"/>
<line x1="48" y1="333.53" x2="51.4" y2="333.53" stroke="#333" stroke-width="1.0"/>
<line x1="47.1" y1="318.9" x2="51.4" y2="318.9" stroke="#333" stroke-width="1.0"/>
<text x="41.9" y="322.9" font-size="11" text-anchor="end" font-weight="normal" font-style="normal">15</text>
<line x1="51.4" y1="538.4" x2="51.4" y2="542.7" stroke="#222" stroke-width="1.1"/>
<line x1="66.12" y1="538.4" x2="66.12" y2="541.4" stroke="#222" stroke-width="1.1"/>
<line x1="80.85" y1="538.4" x2="80.85" y2="542.7" stroke="#222" stroke-width="1.1"/>
<line x1="95.57" y1="538.4" x2="95.57" y2="541.4" stroke="#222" stroke-width="1.1"/>
<line x1="110.3" y1="538.4" x2="110.3" y2="542.7" stroke="#222" stroke-width="1.1"/>
<line x1="125.02" y1="538.4" x2="125.02" y2="541.4" stroke="#222" stroke-width="1.1"/>
<line x1="139.75" y1="538.4" x2="139.75" y2="542.7" stroke="#222" stroke-width="1.1"/>
<line x1="154.47" y1="538.4" x2="154.47" y2="541.4" stroke="#222" stroke-width="1.1"/>
<line x1="169.2" y1="538.4" x2="169.2" y2="542.7" stroke="#222" stroke-width="1.1"/>
<text x="51.4" y="561" font-size="11" text-anchor="middle" font-weight="normal" font-style="normal">0</text>
<text x="80.85" y="561" font-size="11" text-anchor="middle" font-weight="normal" font-style="normal">10</text>
<text x="110.3" y="561" font-size="11" text-anchor="middle" font-weight="normal" font-style="normal">20</text>
<text x="139.75" y="561" font-size="11" text-anchor="middle" font-weight="normal" font-style="normal">30</text>
<text x="169.2" y="561" font-size="11" text-anchor="middle" font-weight="normal" font-style="normal">40</text>
<text x="110.8" y="580.8" font-size="14" text-anchor="middle" font-weight="normal" font-style="normal">Time (h)</text>
<text transform="translate(13.7,436) rotate(-90)" font-size="13.1" text-anchor="middle">Glucose concentration (g/L)</text>
<polyline points="51.2,319 61.12,332.2 86.84,359.9 122.68,430.3 157.82,473.5" fill="none" stroke="#038003" stroke-width="2.0" stroke-linejoin="round"/>
<rect x="47.4" y="315.2" width="7.6" height="7.6" fill="#038003"/>
<rect x="57.32" y="328.4" width="7.6" height="7.6" fill="#038003"/>
<rect x="83.04" y="356.1" width="7.6" height="7.6" fill="#038003"/>
<rect x="118.88" y="426.5" width="7.6" height="7.6" fill="#038003"/>
<rect x="154.02" y="469.7" width="7.6" height="7.6" fill="#038003"/>
<polyline points="51.2,319 61.12,350.1 86.84,376.8 122.68,470.3 157.82,537.6" fill="none" stroke="#ff9a00" stroke-width="2.0" stroke-linejoin="round"/>
<circle cx="51.2" cy="319" r="3.7" fill="#ff9a00"/>
<circle cx="61.12" cy="350.1" r="3.7" fill="#ff9a00"/>
<circle cx="86.84" cy="376.8" r="3.7" fill="#ff9a00"/>
<circle cx="122.68" cy="470.3" r="3.7" fill="#ff9a00"/>
<circle cx="157.82" cy="537.6" r="3.7" fill="#ff9a00"/>
<polyline points="51.2,319 61.12,319.8 86.84,342.4 122.68,473.5 157.82,537.6" fill="none" stroke="#800080" stroke-width="2.0" stroke-linejoin="round"/>
<circle cx="51.2" cy="319" r="3.1" fill="none" stroke="#800080" stroke-width="1.2"/>
<circle cx="61.12" cy="319.8" r="3.1" fill="none" stroke="#800080" stroke-width="1.2"/>
<circle cx="86.84" cy="342.4" r="3.1" fill="none" stroke="#800080" stroke-width="1.2"/>
<circle cx="122.68" cy="473.5" r="3.1" fill="none" stroke="#800080" stroke-width="1.2"/>
<circle cx="157.82" cy="537.6" r="3.1" fill="none" stroke="#800080" stroke-width="1.2"/>
<polyline points="51.2,319 61.12,327.3 86.84,359.3 122.68,503.4 157.82,537.6" fill="none" stroke="#000000" stroke-width="2.0" stroke-linejoin="round"/>
<polygon points="51.2,315.22 47.4,322.22 55,322.22" fill="#000000" stroke="#000000" stroke-width="0.6"/>
<polygon points="61.12,323.52 57.32,330.52 64.92,330.52" fill="#000000" stroke="#000000" stroke-width="0.6"/>
<polygon points="86.84,355.52 83.04,362.52 90.64,362.52" fill="#000000" stroke="#000000" stroke-width="0.6"/>
<polygon points="122.68,499.62 118.88,506.62 126.48,506.62" fill="#000000" stroke="#000000" stroke-width="0.6"/>
<polygon points="157.82,533.82 154.02,540.82 161.62,540.82" fill="#000000" stroke="#000000" stroke-width="0.6"/>
<polyline points="51.2,319 61.12,332.6 86.84,380.6 122.68,500.2 157.82,524.2" fill="none" stroke="#0000ff" stroke-width="2.0" stroke-linejoin="round"/>
<polygon points="51.2,315.33 47.4,322.13 55,322.13" fill="none" stroke="#0000ff" stroke-width="1.1"/>
<polygon points="61.12,328.93 57.32,335.73 64.92,335.73" fill="none" stroke="#0000ff" stroke-width="1.1"/>
<polygon points="86.84,376.93 83.04,383.73 90.64,383.73" fill="none" stroke="#0000ff" stroke-width="1.1"/>
<polygon points="122.68,496.53 118.88,503.33 126.48,503.33" fill="none" stroke="#0000ff" stroke-width="1.1"/>
<polygon points="157.82,520.53 154.02,527.33 161.62,527.33" fill="none" stroke="#0000ff" stroke-width="1.1"/>
<polyline points="51.2,319 61.12,327 86.84,368.4 122.68,503.4 157.82,537.6" fill="none" stroke="#ff0000" stroke-width="2.0" stroke-linejoin="round"/>
<rect x="48.05" y="315.85" width="6.3" height="6.3" fill="none" stroke="#ff0000" stroke-width="1.3"/>
<rect x="57.97" y="323.85" width="6.3" height="6.3" fill="none" stroke="#ff0000" stroke-width="1.3"/>
<rect x="83.69" y="365.25" width="6.3" height="6.3" fill="none" stroke="#ff0000" stroke-width="1.3"/>
<rect x="119.53" y="500.25" width="6.3" height="6.3" fill="none" stroke="#ff0000" stroke-width="1.3"/>
<rect x="154.67" y="534.45" width="6.3" height="6.3" fill="none" stroke="#ff0000" stroke-width="1.3"/>
<line x1="249.3" y1="318.8" x2="367.9" y2="318.8" stroke="#555" stroke-width="1.5"/>
<line x1="367.9" y1="318.8" x2="367.9" y2="538.5" stroke="#222" stroke-width="1.1"/>
<line x1="249.3" y1="318.8" x2="249.3" y2="538.5" stroke="#333" stroke-width="1.2"/>
<line x1="249.3" y1="538.5" x2="367.9" y2="538.5" stroke="#222" stroke-width="1.1"/>
<line x1="245" y1="538.5" x2="249.3" y2="538.5" stroke="#333" stroke-width="1.0"/>
<text x="239.8" y="542.5" font-size="11" text-anchor="end" font-weight="normal" font-style="normal">0.01</text>
<line x1="246.5" y1="516.45" x2="249.3" y2="516.45" stroke="#333" stroke-width="1.0"/>
<line x1="246.5" y1="503.56" x2="249.3" y2="503.56" stroke="#333" stroke-width="1.0"/>
<line x1="246.5" y1="494.41" x2="249.3" y2="494.41" stroke="#333" stroke-width="1.0"/>
<line x1="246.5" y1="487.31" x2="249.3" y2="487.31" stroke="#333" stroke-width="1.0"/>
<line x1="246.5" y1="481.51" x2="249.3" y2="481.51" stroke="#333" stroke-width="1.0"/>
<line x1="246.5" y1="476.61" x2="249.3" y2="476.61" stroke="#333" stroke-width="1.0"/>
<line x1="246.5" y1="472.36" x2="249.3" y2="472.36" stroke="#333" stroke-width="1.0"/>
<line x1="246.5" y1="468.62" x2="249.3" y2="468.62" stroke="#333" stroke-width="1.0"/>
<line x1="245" y1="465.27" x2="249.3" y2="465.27" stroke="#333" stroke-width="1.0"/>
<text x="239.8" y="469.27" font-size="11" text-anchor="end" font-weight="normal" font-style="normal">0.1</text>
<line x1="246.5" y1="443.22" x2="249.3" y2="443.22" stroke="#333" stroke-width="1.0"/>
<line x1="246.5" y1="430.33" x2="249.3" y2="430.33" stroke="#333" stroke-width="1.0"/>
<line x1="246.5" y1="421.18" x2="249.3" y2="421.18" stroke="#333" stroke-width="1.0"/>
<line x1="246.5" y1="414.08" x2="249.3" y2="414.08" stroke="#333" stroke-width="1.0"/>
<line x1="246.5" y1="408.28" x2="249.3" y2="408.28" stroke="#333" stroke-width="1.0"/>
<line x1="246.5" y1="403.38" x2="249.3" y2="403.38" stroke="#333" stroke-width="1.0"/>
<line x1="246.5" y1="399.13" x2="249.3" y2="399.13" stroke="#333" stroke-width="1.0"/>
<line x1="246.5" y1="395.38" x2="249.3" y2="395.38" stroke="#333" stroke-width="1.0"/>
<line x1="245" y1="392.03" x2="249.3" y2="392.03" stroke="#333" stroke-width="1.0"/>
<text x="239.8" y="396.03" font-size="11" text-anchor="end" font-weight="normal" font-style="normal">1</text>
<line x1="246.5" y1="369.99" x2="249.3" y2="369.99" stroke="#333" stroke-width="1.0"/>
<line x1="246.5" y1="357.09" x2="249.3" y2="357.09" stroke="#333" stroke-width="1.0"/>
<line x1="246.5" y1="347.94" x2="249.3" y2="347.94" stroke="#333" stroke-width="1.0"/>
<line x1="246.5" y1="340.85" x2="249.3" y2="340.85" stroke="#333" stroke-width="1.0"/>
<line x1="246.5" y1="335.05" x2="249.3" y2="335.05" stroke="#333" stroke-width="1.0"/>
<line x1="246.5" y1="330.14" x2="249.3" y2="330.14" stroke="#333" stroke-width="1.0"/>
<line x1="246.5" y1="325.9" x2="249.3" y2="325.9" stroke="#333" stroke-width="1.0"/>
<line x1="246.5" y1="322.15" x2="249.3" y2="322.15" stroke="#333" stroke-width="1.0"/>
<line x1="245" y1="318.8" x2="249.3" y2="318.8" stroke="#333" stroke-width="1.0"/>
<text x="239.8" y="322.8" font-size="11" text-anchor="end" font-weight="normal" font-style="normal">10</text>
<line x1="249.3" y1="538.5" x2="249.3" y2="542.8" stroke="#222" stroke-width="1.1"/>
<line x1="264.12" y1="538.5" x2="264.12" y2="541.5" stroke="#222" stroke-width="1.1"/>
<line x1="278.95" y1="538.5" x2="278.95" y2="542.8" stroke="#222" stroke-width="1.1"/>
<line x1="293.77" y1="538.5" x2="293.77" y2="541.5" stroke="#222" stroke-width="1.1"/>
<line x1="308.6" y1="538.5" x2="308.6" y2="542.8" stroke="#222" stroke-width="1.1"/>
<line x1="323.42" y1="538.5" x2="323.42" y2="541.5" stroke="#222" stroke-width="1.1"/>
<line x1="338.25" y1="538.5" x2="338.25" y2="542.8" stroke="#222" stroke-width="1.1"/>
<line x1="353.07" y1="538.5" x2="353.07" y2="541.5" stroke="#222" stroke-width="1.1"/>
<line x1="367.9" y1="538.5" x2="367.9" y2="542.8" stroke="#222" stroke-width="1.1"/>
<text x="249.3" y="561" font-size="11" text-anchor="middle" font-weight="normal" font-style="normal">0</text>
<text x="278.95" y="561" font-size="11" text-anchor="middle" font-weight="normal" font-style="normal">10</text>
<text x="308.6" y="561" font-size="11" text-anchor="middle" font-weight="normal" font-style="normal">20</text>
<text x="338.25" y="561" font-size="11" text-anchor="middle" font-weight="normal" font-style="normal">30</text>
<text x="367.9" y="561" font-size="11" text-anchor="middle" font-weight="normal" font-style="normal">40</text>
<text x="306.9" y="580.8" font-size="14" text-anchor="middle" font-weight="normal" font-style="normal">Time (h)</text>
<text transform="translate(221.3,446) rotate(-90)" font-size="14.5" text-anchor="start">OD<tspan font-size="9.8" dx="0.6" dy="4.4">600</tspan></text>
<polyline points="249.2,487.3 259.08,404.5 284.98,364.6 320.36,342.8 355.64,341" fill="none" stroke="#038003" stroke-width="2.0" stroke-linejoin="round"/>
<rect x="245.4" y="483.5" width="7.6" height="7.6" fill="#038003"/>
<rect x="255.28" y="400.7" width="7.6" height="7.6" fill="#038003"/>
<rect x="281.18" y="360.8" width="7.6" height="7.6" fill="#038003"/>
<rect x="316.56" y="339" width="7.6" height="7.6" fill="#038003"/>
<rect x="351.84" y="337.2" width="7.6" height="7.6" fill="#038003"/>
<polyline points="249.2,487.3 259.08,407.4 284.98,341.6 320.36,340.7 355.64,350.6" fill="none" stroke="#000000" stroke-width="2.0" stroke-linejoin="round"/>
<polygon points="249.2,483.52 245.4,490.52 253,490.52" fill="#000000" stroke="#000000" stroke-width="0.6"/>
<polygon points="259.08,403.62 255.28,410.62 262.88,410.62" fill="#000000" stroke="#000000" stroke-width="0.6"/>
<polygon points="284.98,337.82 281.18,344.82 288.78,344.82" fill="#000000" stroke="#000000" stroke-width="0.6"/>
<polygon points="320.36,336.92 316.56,343.92 324.16,343.92" fill="#000000" stroke="#000000" stroke-width="0.6"/>
<polygon points="355.64,346.82 351.84,353.82 359.44,353.82" fill="#000000" stroke="#000000" stroke-width="0.6"/>
<polyline points="249.2,488 259.08,407.2 284.98,335.5 320.36,333.9 355.64,337.3" fill="none" stroke="#0000ff" stroke-width="2.0" stroke-linejoin="round"/>
<line x1="259.08" y1="401.2" x2="259.08" y2="413.2" stroke="#0000ff" stroke-width="1.2"/>
<line x1="256.08" y1="401.2" x2="262.08" y2="401.2" stroke="#0000ff" stroke-width="1.2"/>
<line x1="256.08" y1="413.2" x2="262.08" y2="413.2" stroke="#0000ff" stroke-width="1.2"/>
<polygon points="249.2,484.33 245.4,491.13 253,491.13" fill="none" stroke="#0000ff" stroke-width="1.1"/>
<polygon points="259.08,403.53 255.28,410.33 262.88,410.33" fill="none" stroke="#0000ff" stroke-width="1.1"/>
<polygon points="284.98,331.83 281.18,338.63 288.78,338.63" fill="none" stroke="#0000ff" stroke-width="1.1"/>
<polygon points="320.36,330.23 316.56,337.03 324.16,337.03" fill="none" stroke="#0000ff" stroke-width="1.1"/>
<polygon points="355.64,333.63 351.84,340.43 359.44,340.43" fill="none" stroke="#0000ff" stroke-width="1.1"/>
<polyline points="249.2,487.3 259.08,406 284.98,346.5 320.36,343.5 355.64,351.3" fill="none" stroke="#800080" stroke-width="2.0" stroke-linejoin="round"/>
<circle cx="249.2" cy="487.3" r="3.1" fill="none" stroke="#800080" stroke-width="1.2"/>
<circle cx="259.08" cy="406" r="3.1" fill="none" stroke="#800080" stroke-width="1.2"/>
<circle cx="284.98" cy="346.5" r="3.1" fill="none" stroke="#800080" stroke-width="1.2"/>
<circle cx="320.36" cy="343.5" r="3.1" fill="none" stroke="#800080" stroke-width="1.2"/>
<circle cx="355.64" cy="351.3" r="3.1" fill="none" stroke="#800080" stroke-width="1.2"/>
<polyline points="249.2,487.3 259.08,394 284.98,347.3 320.36,341.9 355.64,340.9" fill="none" stroke="#ff9a00" stroke-width="2.0" stroke-linejoin="round"/>
<circle cx="249.2" cy="487.3" r="3.7" fill="#ff9a00"/>
<circle cx="259.08" cy="394" r="3.7" fill="#ff9a00"/>
<circle cx="284.98" cy="347.3" r="3.7" fill="#ff9a00"/>
<circle cx="320.36" cy="341.9" r="3.7" fill="#ff9a00"/>
<circle cx="355.64" cy="340.9" r="3.7" fill="#ff9a00"/>
<polyline points="249.2,487.3 259.08,394 284.98,340.6 320.36,339.3 355.64,342.1" fill="none" stroke="#ff0000" stroke-width="2.0" stroke-linejoin="round"/>
<rect x="246.05" y="484.15" width="6.3" height="6.3" fill="none" stroke="#ff0000" stroke-width="1.3"/>
<rect x="255.93" y="390.85" width="6.3" height="6.3" fill="none" stroke="#ff0000" stroke-width="1.3"/>
<rect x="281.83" y="337.45" width="6.3" height="6.3" fill="none" stroke="#ff0000" stroke-width="1.3"/>
<rect x="317.21" y="336.15" width="6.3" height="6.3" fill="none" stroke="#ff0000" stroke-width="1.3"/>
<rect x="352.49" y="338.95" width="6.3" height="6.3" fill="none" stroke="#ff0000" stroke-width="1.3"/>
<line x1="396.8" y1="362.4" x2="420.8" y2="362.4" stroke="#0000ff" stroke-width="1.8"/>
<polygon points="408.7,356.16 402.89,366.56 414.51,366.56" fill="none" stroke="#0000ff" stroke-width="1.68"/>
<line x1="396.8" y1="388.6" x2="420.8" y2="388.6" stroke="#000000" stroke-width="1.8"/>
<polygon points="408.7,382.47 403.15,392.69 414.25,392.69" fill="#000000" stroke="#000000" stroke-width="0.6"/>
<line x1="396.8" y1="413.4" x2="420.8" y2="413.4" stroke="#ff0000" stroke-width="1.8"/>
<rect x="405.07" y="408.77" width="9.26" height="9.26" fill="none" stroke="#ff0000" stroke-width="1.91"/>
<line x1="396.8" y1="439.2" x2="420.8" y2="439.2" stroke="#038003" stroke-width="1.8"/>
<rect x="404.11" y="433.61" width="11.17" height="11.17" fill="#038003"/>
<line x1="396.8" y1="464.2" x2="420.8" y2="464.2" stroke="#800080" stroke-width="1.8"/>
<circle cx="409.4" cy="464.2" r="4.09" fill="none" stroke="#800080" stroke-width="1.58"/>
<line x1="396.8" y1="489" x2="420.8" y2="489" stroke="#ff9a00" stroke-width="1.8"/>
<circle cx="409.3" cy="489" r="4.88" fill="#ff9a00"/>
<text x="444.2" y="367.1" font-size="12.2" xml:space="preserve"><tspan>wt</tspan></text>
<text x="444.2" y="392.6" font-size="12.2" xml:space="preserve" textLength="69.7" lengthAdjust="spacing"><tspan font-family="Liberation Serif" font-size="13">Δ</tspan><tspan font-weight="bold" font-style="italic">metA</tspan>,<tspan font-family="Liberation Serif" font-size="13">Δ</tspan><tspan font-weight="bold" font-style="italic">tdh</tspan></text>
<text x="444.2" y="417.5" font-size="12.2" xml:space="preserve" textLength="116.2" lengthAdjust="spacing"><tspan font-family="Liberation Serif" font-size="13">Δ</tspan><tspan font-weight="bold" font-style="italic">metA</tspan>, <tspan font-family="Liberation Serif" font-size="13">Δ</tspan><tspan font-weight="bold" font-style="italic">tdh</tspan>,  <tspan font-family="Liberation Serif" font-size="13">Δ</tspan><tspan font-weight="bold" font-style="italic">ilvBI</tspan></text>
<text x="444.2" y="443.3" font-size="12.2" xml:space="preserve" textLength="161.1" lengthAdjust="spacing"><tspan font-family="Liberation Serif" font-size="13">Δ</tspan><tspan font-weight="bold" font-style="italic">metA</tspan>, <tspan font-family="Liberation Serif" font-size="13">Δ</tspan><tspan font-weight="bold" font-style="italic">tdh,</tspan>  <tspan font-family="Liberation Serif" font-size="13">Δ</tspan><tspan font-weight="bold" font-style="italic">ilvBI</tspan>,  <tspan font-family="Liberation Serif" font-size="13">Δ</tspan><tspan font-weight="bold" font-style="italic">leuA</tspan></text>
<text x="444.2" y="468.2" font-size="12.2" xml:space="preserve" textLength="116.8" lengthAdjust="spacing"><tspan font-family="Liberation Serif" font-size="13">Δ</tspan><tspan font-weight="bold" font-style="italic">metA</tspan>, <tspan font-family="Liberation Serif" font-size="13">Δ</tspan><tspan font-weight="bold" font-style="italic">tdh</tspan>,  <tspan font-family="Liberation Serif" font-size="13">Δ</tspan><tspan font-weight="bold" font-style="italic">leuA</tspan></text>
<text x="444.2" y="493.2" font-size="12.2" xml:space="preserve" textLength="158.7" lengthAdjust="spacing"><tspan font-family="Liberation Serif" font-size="13">Δ</tspan><tspan font-weight="bold" font-style="italic">metA,</tspan> <tspan font-family="Liberation Serif" font-size="13">Δ</tspan><tspan font-weight="bold" font-style="italic">tdh</tspan>,  <tspan font-family="Liberation Serif" font-size="13">Δ</tspan><tspan font-weight="bold" font-style="italic">leuA,</tspan>  <tspan font-family="Liberation Serif" font-size="13">Δ</tspan><tspan font-weight="bold" font-style="italic">ilvE</tspan>,</text>
</svg>
</body></html>
